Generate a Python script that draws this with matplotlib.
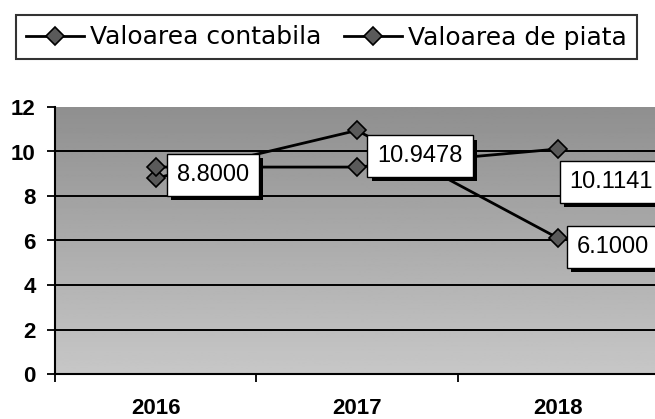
import numpy as np
import matplotlib
matplotlib.use('Agg')
import matplotlib.pyplot as plt
import matplotlib.patheffects as pe
from matplotlib.lines import Line2D

# Datos del grafico
years = ['2016', '2017', '2018']
valoarea_contabila = [8.8, 10.9478, 6.1]
valoarea_piata = [9.3, 9.3, 10.1141]
serie_names = ['Valoarea contabila', 'Valoarea de piata']

# desplazamiento de las etiquetas (pixeles)
off_contabila = [(57, 3), (63, -26), (55, -9)]
off_piata = [(53, -33)]  # solo se ve la etiqueta de 2018

W, H = 655, 419
fig = plt.figure(figsize=(W / 100, H / 100), dpi=100)
ax = fig.add_axes([55 / W, 45 / H, 604 / W, 267 / H])

x = np.arange(len(years))

# fondo degradado gris
grad = np.linspace(0.78, 0.56, 256).reshape(-1, 1)
ax.imshow(grad, extent=(-0.5, 2.5, 0, 12), origin='lower', cmap='gray',
          vmin=0, vmax=1, aspect='auto', zorder=0)

ax.set_xlim(-0.5, 2.5)
ax.set_ylim(0, 12)
ax.set_yticks(np.arange(0, 13, 2))
ax.yaxis.grid(True, color='black', lw=1.4, zorder=1)
ax.get_ygridlines()[-1].set_visible(False)
ax.set_axisbelow(False)

for s in ['top', 'right']:
    ax.spines[s].set_visible(False)
for s in ['left', 'bottom']:
    ax.spines[s].set_linewidth(1.5)

ax.set_xticks(x)
ax.set_xticklabels(years)
ax.set_xticks([-0.5, 0.5, 1.5], minor=True)
ax.tick_params(axis='x', which='major', length=0, pad=17)
ax.tick_params(axis='x', which='minor', length=6, width=1.3, direction='out')
ax.tick_params(axis='y', length=6, width=1.3, direction='out', pad=8)
for lab in ax.get_xticklabels() + ax.get_yticklabels():
    lab.set_fontfamily('Liberation Sans')
    lab.set_fontweight('bold')
    lab.set_fontsize(16)

mk = dict(marker='D', ms=9, mfc='#5a5a5a', mec='black', mew=1.2)
ax.plot(x, valoarea_contabila, color='black', lw=2, zorder=3, **mk)
ax.plot(x, valoarea_piata, color='black', lw=2, zorder=3, **mk)

def etiquetas(xs, vals, offs, z):
    for xi, v, o in zip(xs, vals, offs):
        a = ax.annotate(f'{v:.4f}', (xi, v), xytext=o, textcoords='offset pixels',
                        ha='center', va='center', fontsize=17,
                        fontfamily='Liberation Sans', zorder=z,
                        annotation_clip=False,
                        bbox=dict(boxstyle='square,pad=0.42', fc='white',
                                  ec='black', lw=1))
        a.get_bbox_patch().set_path_effects(
            [pe.SimplePatchShadow(offset=(3, -3), shadow_rgbFace='black', alpha=1),
             pe.Normal()])

etiquetas(x[-1:], valoarea_piata[-1:], off_piata, 5)
etiquetas(x, valoarea_contabila, off_contabila, 6)

handles = [Line2D([], [], color='black', lw=2, **mk) for _ in serie_names]
leg = fig.legend(handles, serie_names, loc='center', ncol=2,
                 bbox_to_anchor=(326.5 / W, 1 - 37.5 / H),
                 prop={'family': 'DejaVu Sans', 'size': 18},
                 frameon=True, fancybox=False, edgecolor='black',
                 borderpad=0.4, handlelength=2.3, handletextpad=0.25,
                 columnspacing=0.9)
leg.get_frame().set_linewidth(1.5)

fig.savefig('out.png', dpi=100)
